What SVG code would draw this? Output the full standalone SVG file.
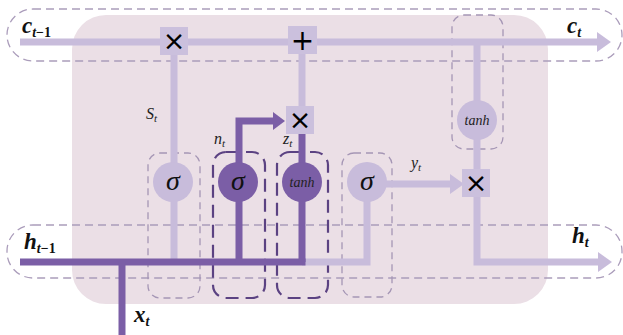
<svg xmlns="http://www.w3.org/2000/svg" width="623" height="335" viewBox="0 0 623 335">
  <defs>
    <marker id="arrLight" viewBox="0 0 14 20" markerWidth="14" markerHeight="20" refX="0" refY="10" orient="auto" markerUnits="userSpaceOnUse">
      <path d="M0,0 L14,10 L0,20 z" fill="#c8bcdb"/>
    </marker>
    <marker id="arrDark" viewBox="0 0 12 18" markerWidth="12" markerHeight="18" refX="0" refY="9" orient="auto" markerUnits="userSpaceOnUse">
      <path d="M0,0 L12,9 L0,18 z" fill="#7b5ea6"/>
    </marker>
  </defs>
  <style>
    .cell { fill: #ebdfe6; }
    .outer { fill: none; stroke: #ab9dbb; stroke-width: 1.3; stroke-dasharray: 8 5; }
    .gateL { fill: none; stroke: #a596b5; stroke-width: 1.3; stroke-dasharray: 7 5; }
    .gateD { fill: none; stroke: #5b4282; stroke-width: 2.2; stroke-dasharray: 13 7; }
    .light { fill: none; stroke: #c8bcdb; stroke-width: 7; stroke-linejoin: miter; }
    .dark { fill: none; stroke: #7b5ea6; stroke-width: 7; stroke-linejoin: miter; }
    .circL { fill: #c8bcdb; }
    .circD { fill: #7b5ea6; }
    .op { fill: #cbc0dd; }
    .opsym { font-family: "DejaVu Sans", sans-serif; fill: #000; text-anchor: middle; }
    .greek { font-family: "Liberation Serif", serif; font-style: italic; font-size: 28px; fill: #111; text-anchor: middle; }
    .fn { font-family: "Liberation Serif", serif; font-style: italic; font-size: 14px; fill: #222; text-anchor: middle; }
    .big { font-family: "Liberation Serif", serif; font-style: italic; font-weight: bold; font-size: 23px; fill: #111; }
    .sub { font-size: 14px; }
    .up { font-style: normal; }
    .lbl { font-family: "Liberation Serif", serif; font-style: italic; font-size: 16px; fill: #222; }
    .lsub { font-size: 11px; }
  </style>

  <!-- cell body -->
  <rect class="cell" x="72" y="15" width="476" height="289" rx="34"/>

  <!-- dashed state lanes -->
  <rect class="outer" x="7" y="9" width="615" height="52" rx="26"/>
  <rect class="outer" x="7" y="225" width="615" height="53" rx="26"/>

  <!-- gate outlines -->
  <rect id="gate-s" class="gateL" x="148" y="153" width="52" height="145" rx="12"/>
  <rect id="gate-y" class="gateL" x="342" y="153" width="50" height="144" rx="12"/>
  <rect id="gate-out" class="gateL" x="452" y="15" width="51" height="134" rx="12"/>
  <rect id="gate-n" class="gateD" x="213" y="152" width="52" height="146" rx="13"/>
  <rect id="gate-z" class="gateD" x="277" y="152" width="51" height="146" rx="13"/>

  <g id="connectors">
    <!-- cell state -->
    <path class="light" d="M20,42 H597" marker-end="url(#arrLight)"/>
    <!-- s_t forget path -->
    <path class="light" d="M174,40 V259"/>
    <!-- z_t to adder -->
    <path class="light" d="M302,120 V40"/>
    <!-- output path -->
    <path class="light" d="M477,42 V262 H598" marker-end="url(#arrLight)"/>
    <!-- y_t -->
    <path class="light" d="M367,184 H450" marker-end="url(#arrLight)"/>
    <!-- hidden input to output gate -->
    <path class="light" d="M302,262 H367 V182"/>
    <!-- hidden state input -->
    <path class="dark" d="M20,262 H305.5"/>
    <path class="dark" d="M122,262 V335"/>
    <path class="dark" d="M239,262 V121 H273" marker-end="url(#arrDark)"/>
    <path class="dark" d="M302,262 V133"/>
  </g>

  <!-- gates -->
  <g id="sigma-s">
    <circle class="circL" cx="173" cy="182" r="20"/>
    <text class="greek" x="173" y="190">σ</text>
  </g>
  <g id="sigma-n">
    <circle class="circD" cx="238" cy="182" r="20"/>
    <text class="greek" x="238" y="190">σ</text>
  </g>
  <g id="tanh-z">
    <circle class="circD" cx="302" cy="182" r="20"/>
    <text class="fn" x="302" y="187">tanh</text>
  </g>
  <g id="sigma-y">
    <circle class="circL" cx="367" cy="182" r="20"/>
    <text class="greek" x="367" y="190">σ</text>
  </g>
  <g id="tanh-out">
    <circle class="circL" cx="477" cy="120" r="20"/>
    <text class="fn" x="477" y="125">tanh</text>
  </g>

  <!-- pointwise operations -->
  <g id="mul-forget">
    <rect class="op" x="160" y="27" width="28" height="28"/>
    <text class="opsym" x="174" y="50" font-size="27">×</text>
  </g>
  <g id="add-cell">
    <rect class="op" x="288" y="26" width="29" height="28"/>
    <text class="opsym" x="302.5" y="50" font-size="28">+</text>
  </g>
  <g id="mul-z">
    <rect class="op" x="286" y="106" width="28" height="28"/>
    <text class="opsym" x="300" y="129" font-size="27">×</text>
  </g>
  <g id="mul-out">
    <rect class="op" x="462" y="169" width="28" height="28"/>
    <text class="opsym" x="476" y="192" font-size="27">×</text>
  </g>

  <!-- labels -->
  <text class="big" x="22" y="33">c<tspan class="sub" dy="4">t<tspan class="up">−1</tspan></tspan></text>
  <text class="big" x="567" y="33">c<tspan class="sub" dy="4">t</tspan></text>
  <text class="big" x="24" y="249">h<tspan class="sub" dy="4">t<tspan class="up">−1</tspan></tspan></text>
  <text class="big" x="572" y="243">h<tspan class="sub" dy="4">t</tspan></text>
  <text class="big" x="134" y="322">x<tspan class="sub" dy="4">t</tspan></text>
  <text class="lbl" x="146" y="119">S<tspan class="lsub" dy="3">t</tspan></text>
  <text class="lbl" x="214" y="144">n<tspan class="lsub" dy="3">t</tspan></text>
  <text class="lbl" x="283" y="144">z<tspan class="lsub" dy="3">t</tspan></text>
  <text class="lbl" x="411" y="168">y<tspan class="lsub" dy="3">t</tspan></text>
</svg>
